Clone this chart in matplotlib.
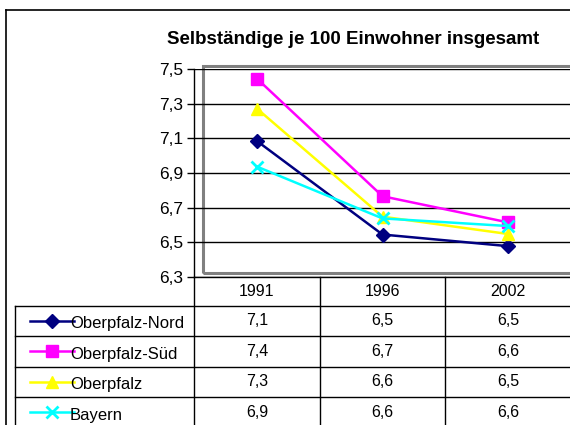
import numpy as np
import matplotlib
matplotlib.use("Agg")
import matplotlib.pyplot as plt
from matplotlib.lines import Line2D
from matplotlib.patches import Rectangle
import matplotlib.transforms as mtransforms

plt.rcParams['font.family'] = ['Liberation Sans', 'DejaVu Sans']

# Daten
jahre = ["1991", "1996", "2002"]
namen = ["Oberpfalz-Nord", "Oberpfalz-Süd", "Oberpfalz", "Bayern"]
nord = [7.085, 6.545, 6.478]
sued = [7.445, 6.766, 6.615]
oberpfalz = [7.272, 6.648, 6.548]
bayern = [6.937, 6.638, 6.594]
tabelle = [
    ["7,1", "6,5", "6,5"],
    ["7,4", "6,7", "6,6"],
    ["7,3", "6,6", "6,5"],
    ["6,9", "6,6", "6,6"],
]
y_ticks = [6.3, 6.5, 6.7, 6.9, 7.1, 7.3, 7.5]

reihen = [nord, sued, oberpfalz, bayern]
farben = ["#000080", "#FF00FF", "#FFFF00", "#00FFFF"]
marker = ["D", "s", "^", "x"]
msize = [7, 9, 9, 9]

W, H = 570, 425
fig = plt.figure(figsize=(W / 100, H / 100), dpi=100)

def fx(x):
    return x / W

def fy(y):
    return 1 - y / H

# Diagrammbereich (Pixelgrenzen)
ax_l, ax_r, ax_t, ax_b = 194, 571, 69, 277
ax = fig.add_axes([fx(ax_l), fy(ax_b), fx(ax_r - ax_l), (ax_b - ax_t) / H])
ax.set_xlim(0, len(jahre))
ax.set_ylim(6.3, 7.5)
x = np.arange(len(jahre)) + 0.5

for yv in y_ticks:
    ax.axhline(yv, color="black", lw=1, zorder=1)

for werte, c, m, s in zip(reihen, farben, marker, msize):
    ax.plot(x, werte, color=c, marker=m, markersize=s, lw=1.8,
            markeredgewidth=2 if m == "x" else 1, markeredgecolor=c, zorder=3,
            clip_on=False)

ax.set_yticks(y_ticks)
ax.set_yticklabels([f"{v:.1f}".replace(".", ",") for v in y_ticks], fontsize=12.5)
ax.set_xticks([])
ax.tick_params(axis="y", length=5, width=1, color="black", pad=3)
for sp in ["top", "right", "bottom"]:
    ax.spines[sp].set_visible(False)
ax.spines["left"].set_linewidth(1)
ax.patch.set_alpha(0)

# grauer Rahmen der Zeichnungsfläche
fig.add_artist(Rectangle((fx(203), fy(273)), fx(600 - 203), (273 - 66) / H,
                         transform=fig.transFigure, fill=False,
                         edgecolor="#808080", lw=2.2, zorder=0))

# Titel
fig.text(fx(353), fy(40), "Selbständige je 100 Einwohner insgesamt",
         ha="center", va="center", fontsize=13.5, fontweight="bold")

# äußerer Rahmen
fig.add_artist(Line2D([fx(6), fx(6)], [fy(10), fy(430)], color="black", lw=1.2))
fig.add_artist(Line2D([fx(6), fx(580)], [fy(10), fy(10)], color="black", lw=1.2))

# Datentabelle
tr = mtransforms.blended_transform_factory(ax.transData, fig.transFigure)
kopf_oben, zeile_oben, zeile_h = 277, 305.5, 30.5
zeilen_y = [zeile_oben + i * zeile_h for i in range(len(namen) + 1)]

# x-Achse / Kopfzeile
fig.add_artist(Line2D([fx(ax_l), fx(ax_r)], [fy(kopf_oben)] * 2, color="black", lw=1))
for i in range(len(jahre) + 1):
    fig.add_artist(Line2D([i, i], [fy(kopf_oben), fy(430)], transform=tr,
                          color="black", lw=1))
for yy in zeilen_y:
    fig.add_artist(Line2D([fx(15), fx(ax_r)], [fy(yy)] * 2, color="black", lw=1))
fig.add_artist(Line2D([fx(15), fx(15)], [fy(zeile_oben), fy(430)], color="black", lw=1))

for j, jahr in enumerate(jahre):
    fig.text(x[j], fy((kopf_oben + zeile_oben) / 2), jahr, transform=tr,
             ha="center", va="center", fontsize=11.5)

for i, name in enumerate(namen):
    yc = fy(zeilen_y[i] + zeile_h / 2)
    fig.add_artist(Line2D([fx(30), fx(74)], [yc, yc], color=farben[i], lw=1.8))
    fig.add_artist(Line2D([fx(52)], [yc], color=farben[i], marker=marker[i],
                          markersize=msize[i], markeredgecolor=farben[i],
                          markeredgewidth=2 if marker[i] == "x" else 1))
    fig.text(fx(70), yc - 3 / H, name, ha="left", va="center", fontsize=12)
    for j in range(len(jahre)):
        fig.text(x[j], yc, tabelle[i][j], transform=tr,
                 ha="center", va="center", fontsize=11.5)

fig.savefig("out.png", dpi=100)
